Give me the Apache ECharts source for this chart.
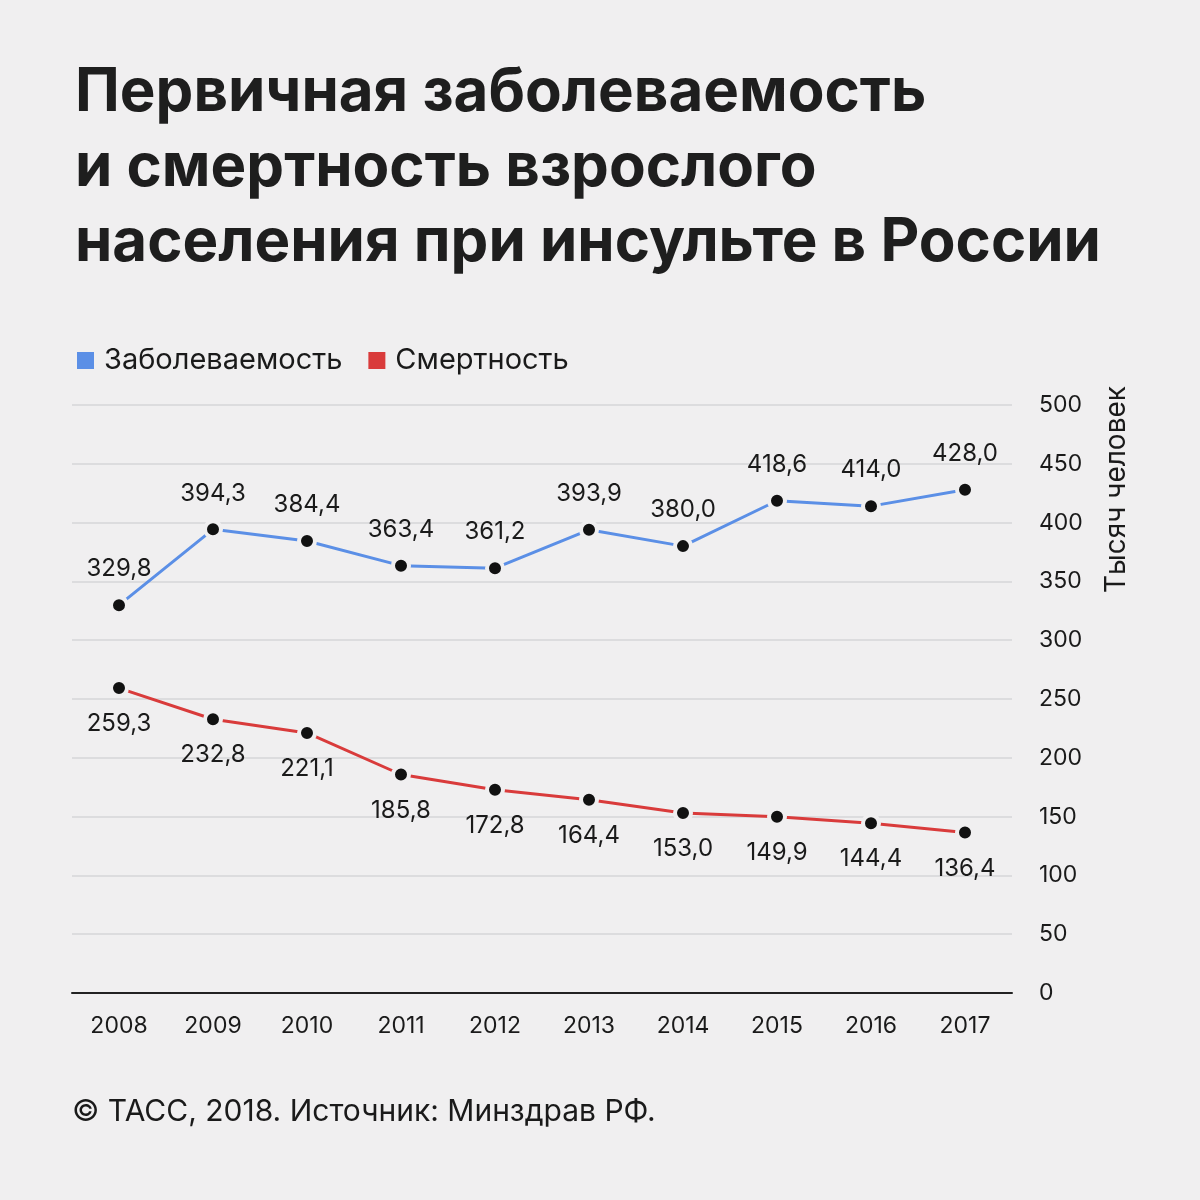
<!DOCTYPE html>
<html><head><meta charset="utf-8">
<script src="https://cdn.jsdelivr.net/npm/echarts@6/dist/echarts.min.js"></script>
<style>html,body{margin:0;padding:0;background:#f0eff0;}#c{width:1200px;height:1200px;}</style>
</head><body><div id="c"></div>
<script>
const years = ['2008','2009','2010','2011','2012','2013','2014','2015','2016','2017'];
const incidence = [329.8, 394.3, 384.4, 363.4, 361.2, 393.9, 380.0, 418.6, 414.0, 428.0];
const mortality = [259.3, 232.8, 221.1, 185.8, 172.8, 164.4, 153.0, 149.9, 144.4, 136.4];
const seriesNames = ['Заболеваемость', 'Смертность'];
const titleLines = ['Первичная заболеваемость', 'и смертность взрослого', 'населения при инсульте в России'];
const yAxisName = 'Тысяч человек';
const sourceText = '© ТАСС, 2018. Источник: Минздрав РФ.';

const BG = '#f0eff0';
const BLUE = '#5b8fe6', RED = '#d93b3b';
const FONT = 'Inter, Roboto, "Noto Sans", sans-serif';
const fmt = v => v.toFixed(1).replace('.', ',');

const chart = echarts.init(document.getElementById('c'), null, {renderer: 'canvas'});
function mkSeries(name, data, color, pos) {
  return {
    name, type: 'line', data, yAxisIndex: 0, color,
    lineStyle: {color, width: 3},
    itemStyle: {color: '#111', borderColor: BG, borderWidth: 4},
    symbol: 'circle', symbolSize: 16,
    label: {show: true, position: pos, distance: 14,
      formatter: p => fmt(p.value), fontSize: 24, color: '#1a1a1a', fontFamily: FONT},
    z: 3
  };
}
chart.setOption({
  backgroundColor: BG,
  animation: false,
  title: {
    text: titleLines.join('\n'), left: 70, top: 50,
    textStyle: {fontSize: 60, fontWeight: 'bold', color: '#1e1e1e', lineHeight: 75, fontFamily: FONT}
  },
  legend: {
    left: 72, top: 341, itemWidth: 17, itemHeight: 17, itemGap: 26, icon: 'rect',
    textStyle: {fontSize: 29, color: '#1a1a1a', fontFamily: FONT, padding: [0, 0, 0, 5]},
    data: [
      {name: seriesNames[0], itemStyle: {color: BLUE, borderWidth: 0}},
      {name: seriesNames[1], itemStyle: {color: RED, borderWidth: 0}}
    ]
  },
  grid: {left: 72, right: 188, top: 405, bottom: 207},
  xAxis: {
    type: 'category', data: years, boundaryGap: true,
    axisLine: {lineStyle: {color: '#222', width: 2}},
    axisTick: {show: false},
    axisLabel: {fontSize: 23, color: '#1a1a1a', margin: 22, fontFamily: FONT}
  },
  yAxis: {
    type: 'value', min: 0, max: 500, interval: 50, position: 'right',
    axisLine: {show: false}, axisTick: {show: false},
    axisLabel: {fontSize: 23, color: '#1a1a1a', margin: 27, fontFamily: FONT, align: 'left'},
    splitLine: {lineStyle: {color: '#d6d6d8', width: 1.5}}
  },
  graphic: [
    {type: 'text', x: 1103, y: 593, rotation: Math.PI / 2,
      style: {text: yAxisName, font: '28px ' + FONT, fill: '#1a1a1a', textVerticalAlign: 'top'}},
    {type: 'text', left: 72, top: 1097,
      style: {text: sourceText, font: '30px ' + FONT, fill: '#1a1a1a'}}
  ],
  series: [
    mkSeries(seriesNames[0], incidence, BLUE, 'top'),
    mkSeries(seriesNames[1], mortality, RED, 'bottom')
  ]
});
</script></body></html>
